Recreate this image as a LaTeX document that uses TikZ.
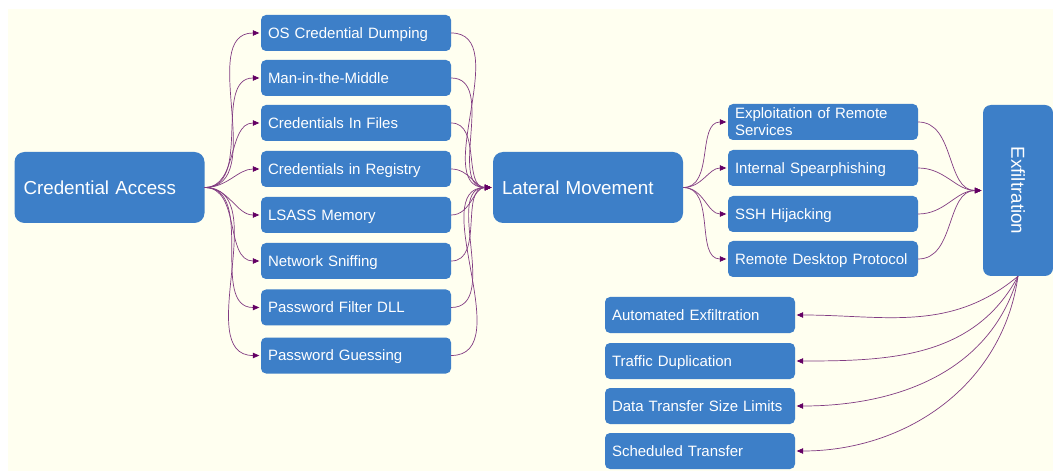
\documentclass[tikz,border=0pt]{standalone}
\usepackage{fontspec}
\setmainfont{Liberation Sans}
\usetikzlibrary{arrows.meta}
\definecolor{bgc}{RGB}{255,255,240}
\definecolor{boxblue}{RGB}{61,127,200}
\definecolor{edgec}{RGB}{130,60,130}
\definecolor{tipc}{RGB}{100,0,100}
\tikzset{
  box/.style={fill=boxblue, rounded corners=5pt, text=white, minimum width=190pt,
    minimum height=36pt, text width=176pt, align=left, inner xsep=7pt, inner ysep=0pt,
    text height=12pt, text depth=1.3pt,
    font=\fontsize{15}{17}\selectfont},
  bigbox/.style={fill=boxblue, rounded corners=10pt, text=white, minimum width=190pt,
    minimum height=71pt, text width=172pt, align=left, inner xsep=9pt, inner ysep=0pt,
    text height=15pt, text depth=1.5pt,
    font=\fontsize{18.8}{22}\selectfont},
  exbox/.style={fill=boxblue, rounded corners=8pt, text=white, minimum width=70pt,
    minimum height=171pt, inner sep=0pt, font=\fontsize{18.8}{22}\selectfont},
  conn/.style={draw=edgec, line width=0.7pt,
    -{Triangle[length=6.5pt,width=5.5pt,fill=tipc,color=tipc]}, shorten >=1.5pt},
}
\begin{document}
\begin{tikzpicture}[x=1pt,y=-1pt]
\useasboundingbox (0,0) rectangle (1053,473);
\fill[white] (0,0) rectangle (1053,473);
\fill[bgc] (8,9) rectangle (1053,471);

% main nodes
\node[bigbox] (ca) at (109.5,187.5) {Credential Access};
\node[bigbox] (lm) at (588,187.5) {Lateral Movement};
\node[exbox] (ex) at (1018,190.5) {\rotatebox{-90}{Exfiltration}};

% credential access techniques
\node[box] (c1) at (356,33) {OS Credential Dumping};
\node[box] (c2) at (356,78) {Man-in-the-Middle};
\node[box] (c3) at (356,123) {Credentials In Files};
\node[box] (c4) at (356,169) {Credentials in Registry};
\node[box] (c5) at (356,215) {LSASS Memory};
\node[box] (c6) at (356,261) {Network Sniffing};
\node[box] (c7) at (356,307.5) {Password Filter DLL};
\node[box] (c8) at (356,355.5) {Password Guessing};

% lateral movement techniques
\node[box, text depth=18.3pt] (l1) at (823,122) {Exploitation of Remote\\Services};
\node[box] (l2) at (823,168) {Internal Spearphishing};
\node[box] (l3) at (823,214) {SSH Hijacking};
\node[box] (l4) at (823,259) {Remote Desktop Protocol};

% exfiltration techniques
\node[box] (e1) at (700,315) {Automated Exfiltration};
\node[box] (e2) at (700,361) {Traffic Duplication};
\node[box] (e3) at (700,406) {Data Transfer Size Limits};
\node[box] (e4) at (700,451) {Scheduled Transfer};

% connectors
\foreach \n in {c1,c2,c3,c4,c5,c6,c7,c8}{
  \draw[conn] (ca.east) to[out=0,in=180] (\n.west);
  \draw[conn] (\n.east) to[out=0,in=180] (lm.west);
}
\foreach \n in {l1,l2,l3,l4}{
  \draw[conn] (lm.east) to[out=0,in=180] (\n.west);
  \draw[conn] (\n.east) to[out=0,in=180] (ex.west);
}
\draw[conn] (ex.south) to[out=-140,in=0] (e1.east);
\draw[conn] (ex.south) to[out=-118,in=0] (e2.east);
\draw[conn] (ex.south) to[out=-106,in=0] (e3.east);
\draw[conn] (ex.south) to[out=-98,in=0] (e4.east);
\end{tikzpicture}
\end{document}
